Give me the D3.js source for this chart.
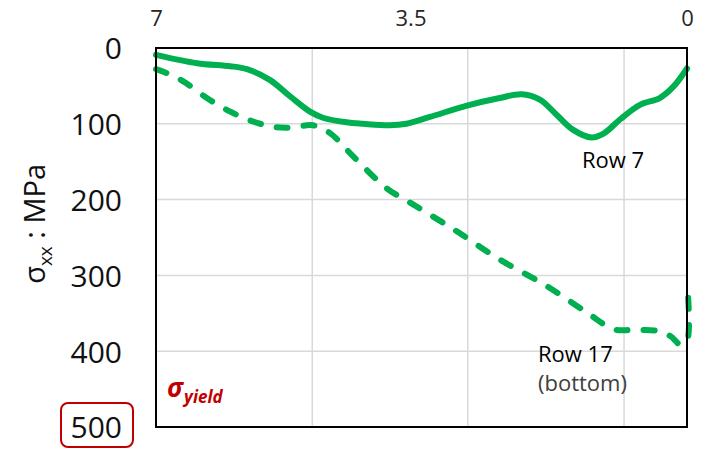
<!DOCTYPE html>
<html>
<head>
<meta charset="utf-8">
<script src="https://cdn.jsdelivr.net/npm/d3@7/dist/d3.min.js"></script>
<style>
  html, body { margin: 0; padding: 0; background: #fff; }
  svg { display: block; font-family: "Open Sans", "Liberation Sans", sans-serif; }
</style>
</head>
<body>
<svg id="chart" width="705" height="450"></svg>
<script>
// Distance along the weld (x) and longitudinal stress sigma_xx (MPa)
const row7X   = [7.00, 6.46, 6.02, 5.80, 5.50, 5.23, 4.97, 4.80, 4.49, 4.27, 3.92, 3.70, 3.39, 2.90, 2.47, 2.18, 1.94, 1.72, 1.50, 1.26, 1.10, 0.88, 0.62, 0.36, 0.18, 0.00];
const row7Y   = [9, 20, 24, 28, 42, 64, 84, 92, 98, 100, 102, 100, 91, 76, 66, 61, 68, 88, 108, 118, 113, 94, 75, 66, 51, 27];

const row17X  = [7.00, 6.86, 6.64, 6.33, 6.02, 5.72, 5.45, 5.23, 4.93, 4.71, 4.40, 3.96, 3.65, 3.08, 2.47, 1.85, 1.32, 0.97, 0.71, 0.40, 0.22, 0.09, 0.00, 0.00];
const row17Y  = [28, 33, 44, 66, 84, 97, 104, 105, 102, 112, 143, 185, 204, 239, 279, 314, 349, 371, 372, 373, 380, 391, 386, 309];

const xTickValues = [7, 3.5, 0];
const xTickLabels = ["7", "3.5", "0"];
const yTickValues = [0, 100, 200, 300, 400, 500];
const xGridValues = [4.94, 2.89, 0.83];
const yGridValues = [100, 200, 300, 400];

const GREEN = "#00B050";
const RED = "#C00000";

const svg = d3.select("#chart");
const plot = { left: 156, right: 687, top: 48, bottom: 427 };

const x = d3.scaleLinear().domain([7, 0]).range([plot.left, plot.right]);
const y = d3.scaleLinear().domain([0, 500]).range([plot.top, plot.bottom]);

// gridlines
const grid = svg.append("g").attr("stroke", "#D9D9D9").attr("stroke-width", 1.5);
grid.selectAll("line.gx").data(xGridValues).join("line")
  .attr("x1", d => x(d)).attr("x2", d => x(d))
  .attr("y1", plot.top).attr("y2", plot.bottom);
grid.selectAll("line.gy").data(yGridValues).join("line")
  .attr("x1", plot.left).attr("x2", plot.right)
  .attr("y1", d => y(d)).attr("y2", d => y(d));

// series
const line = d3.line()
  .x(d => x(d[0])).y(d => y(d[1]))
  .curve(d3.curveCatmullRom.alpha(0.5));

const row7 = row7X.map((v, i) => [v, row7Y[i]]);
const row17 = row17X.map((v, i) => [v, row17Y[i]]);

svg.append("path").datum(row7)
  .attr("d", line)
  .attr("fill", "none").attr("stroke", GREEN)
  .attr("stroke-width", 6).attr("stroke-linecap", "round").attr("stroke-linejoin", "round");

svg.append("path").datum(row17)
  .attr("d", line)
  .attr("fill", "none").attr("stroke", GREEN)
  .attr("stroke-width", 6).attr("stroke-linecap", "round").attr("stroke-linejoin", "round")
  .attr("stroke-dasharray", "11,16");

// plot frame
svg.append("rect")
  .attr("x", plot.left).attr("y", plot.top)
  .attr("width", plot.right - plot.left).attr("height", plot.bottom - plot.top)
  .attr("fill", "none").attr("stroke", "#000").attr("stroke-width", 2);

// top axis labels
const xAxis = d3.axisTop(x).tickValues(xTickValues)
  .tickFormat((d, i) => xTickLabels[i]).tickSize(0).tickPadding(0);
const gx = svg.append("g").attr("transform", `translate(0,${plot.top})`).call(xAxis);
gx.select(".domain").remove();
gx.selectAll("text")
  .attr("font-size", 22).attr("fill", "#262626")
  .attr("font-family", "Open Sans, sans-serif")
  .attr("y", -22)
  .attr("dx", d => d === 3.5 ? -11 : 0);

// left axis labels
const yAxis = d3.axisLeft(y).tickValues(yTickValues).tickSize(0).tickPadding(0);
const gy = svg.append("g").attr("transform", `translate(${plot.left},0)`).call(yAxis);
gy.select(".domain").remove();
gy.selectAll("text")
  .attr("font-size", 30).attr("fill", "#111")
  .attr("font-family", "Open Sans, sans-serif")
  .attr("x", -34).attr("dy", "0.36em");

// highlight box around the 500 MPa label
svg.append("rect")
  .attr("x", 61).attr("y", y(500) - 24)
  .attr("width", 72).attr("height", 44)
  .attr("rx", 7).attr("ry", 7)
  .attr("fill", "none").attr("stroke", RED).attr("stroke-width", 2);

// y axis title
const yTitle = svg.append("text")
  .attr("transform", `translate(45,${y(232)}) rotate(-90)`)
  .attr("text-anchor", "middle")
  .attr("font-size", 29).attr("fill", "#111");
yTitle.append("tspan").text("σ");
yTitle.append("tspan").attr("font-size", 19).attr("dy", 7).text("xx");
yTitle.append("tspan").attr("dy", -7).text(" : MPa");

// yield stress marker
const ys = svg.append("text")
  .attr("x", 167).attr("y", y(460))
  .attr("fill", RED).attr("font-weight", "bold").attr("font-style", "italic")
  .attr("font-size", 26);
ys.append("tspan").text("σ");
ys.append("tspan").attr("font-size", 17).attr("dy", 6).attr("dx", 1).text("yield");

// series labels
svg.append("text").attr("x", 582).attr("y", y(158))
  .attr("font-size", 22).attr("fill", "#000").text("Row 7");
svg.append("text").attr("x", 538).attr("y", y(414))
  .attr("font-size", 22).attr("fill", "#000").text("Row 17");
svg.append("text").attr("x", 538).attr("y", y(453))
  .attr("font-size", 22).attr("fill", "#404040").text("(bottom)");
</script>
</body>
</html>
